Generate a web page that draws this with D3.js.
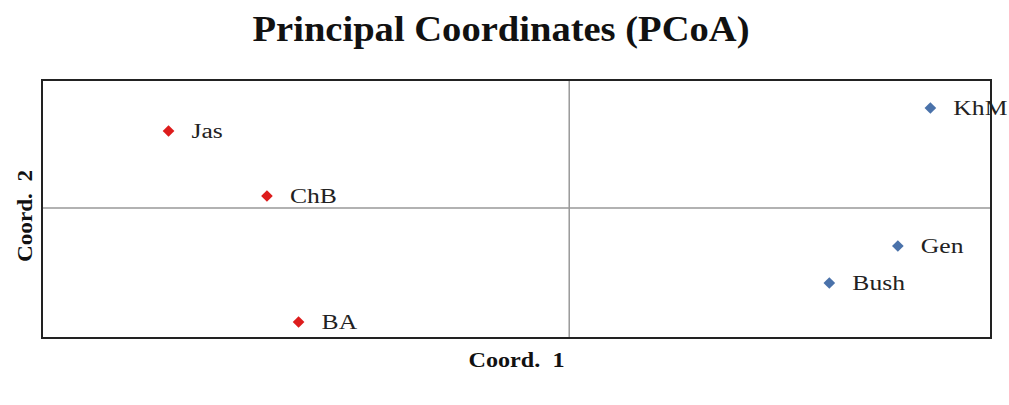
<!DOCTYPE html>
<html>
<head>
<meta charset="utf-8">
<script src="https://cdn.jsdelivr.net/npm/d3@7.9.0/dist/d3.min.js"></script>
<style>
  body { margin: 0; background: #fff; }
  svg { display: block; font-family: "Liberation Serif", "Times New Roman", serif; }
  text { white-space: pre; }
</style>
</head>
<body>
<svg id="chart" width="1009" height="405"></svg>
<script>
// sample names and their principal coordinates
const names = ['Jas', 'ChB', 'BA', 'KhM', 'Gen', 'Bush'];
const coord1 = [-0.228, -0.172, -0.154, 0.2055, 0.187, 0.148];
const coord2 = [0.077, 0.012, -0.114, 0.100, -0.038, -0.075];
const groups = ['A', 'A', 'A', 'B', 'B', 'B'];

const width = 1009, height = 405;
const margin = { top: 80, right: 18, bottom: 67, left: 42 };

const svg = d3.select('#chart');

const x = d3.scaleLinear().domain([-0.3, 0.24]).range([margin.left, width - margin.right]);
const y = d3.scaleLinear().domain([-0.13, 0.128]).range([height - margin.bottom, margin.top]);

const color = d3.scaleOrdinal().domain(['A', 'B']).range(['#dd1c1c', '#4a72aa']);

// title (the original picture is a bit stretched sideways)
svg.append('text')
  .attr('x', 501)
  .attr('y', 41)
  .attr('text-anchor', 'middle')
  .attr('font-weight', 'bold')
  .attr('font-size', 35)
  .attr('textLength', 497)
  .attr('lengthAdjust', 'spacingAndGlyphs')
  .attr('fill', '#111')
  .text('Principal Coordinates (PCoA)');

// zero lines
svg.append('line')
  .attr('x1', x(0)).attr('x2', x(0))
  .attr('y1', y.range()[1]).attr('y2', y.range()[0])
  .attr('stroke', '#999').attr('stroke-width', 1.5);
svg.append('line')
  .attr('x1', x.range()[0]).attr('x2', x.range()[1])
  .attr('y1', y(0)).attr('y2', y(0))
  .attr('stroke', '#999').attr('stroke-width', 1.5);

// points
const data = names.map((n, i) => ({ name: n, c1: coord1[i], c2: coord2[i], g: groups[i] }));
const diamond = d3.symbol().type(d3.symbolSquare).size(68);

svg.selectAll('path.pt')
  .data(data)
  .join('path')
  .attr('class', 'pt')
  .attr('d', diamond)
  .attr('transform', d => `translate(${x(d.c1)},${y(d.c2)}) rotate(45)`)
  .attr('fill', d => color(d.g));

// frame
svg.append('rect')
  .attr('x', x.range()[0]).attr('y', y.range()[1])
  .attr('width', x.range()[1] - x.range()[0])
  .attr('height', y.range()[0] - y.range()[1])
  .attr('fill', 'none')
  .attr('stroke', '#222')
  .attr('stroke-width', 2);

svg.selectAll('text.lbl')
  .data(data)
  .join('text')
  .attr('class', 'lbl')
  .attr('transform', d => `translate(${x(d.c1) + 23},${y(d.c2) + 7}) scale(1.28,1)`)
  .attr('font-size', 20)
  .attr('fill', '#222')
  .text(d => d.name);

// axis titles
svg.append('text')
  .attr('x', (x.range()[0] + x.range()[1]) / 2)
  .attr('y', 367)
  .attr('text-anchor', 'middle')
  .attr('font-weight', 'bold')
  .attr('font-size', 22)
  .attr('textLength', 96)
  .attr('lengthAdjust', 'spacingAndGlyphs')
  .attr('fill', '#111')
  .text('Coord.  1');

svg.append('text')
  .attr('transform', `translate(32,216) rotate(-90)`)
  .attr('text-anchor', 'middle')
  .attr('font-weight', 'bold')
  .attr('font-size', 21)
  .attr('textLength', 92)
  .attr('lengthAdjust', 'spacingAndGlyphs')
  .attr('fill', '#111')
  .text('Coord.  2');
</script>
</body>
</html>
